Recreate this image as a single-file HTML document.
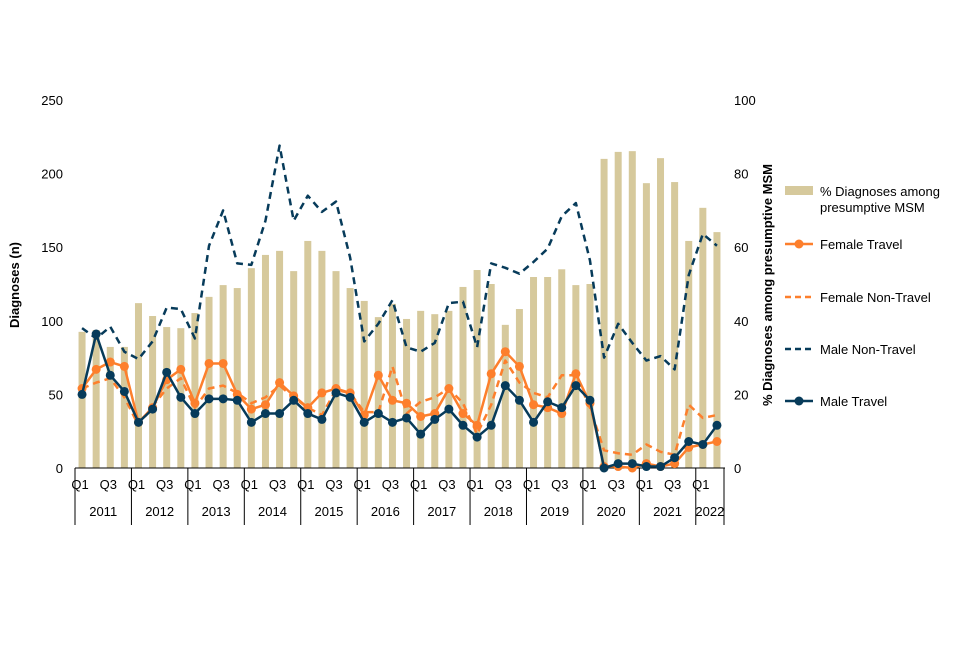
<!DOCTYPE html>
<html><head><meta charset="utf-8"><style>
body{margin:0;background:#fff;font-family:"Liberation Sans",Arial,sans-serif;}
svg text{font-family:"Liberation Sans",Arial,sans-serif;font-size:13px;fill:#000;}
</style></head><body>
<svg id="chart" width="960" height="640" xmlns="http://www.w3.org/2000/svg"></svg>
<script>
const years = ["2011","2012","2013","2014","2015","2016","2017","2018","2019","2020","2021","2022"];
const pctMSM = [37,37.5,32.9,32.9,44.8,41.3,38.3,38,42.1,46.5,49.7,48.9,54.3,57.9,59,53.5,61.7,59,53.5,48.9,45.4,41,44.6,40.5,42.7,41.8,42.7,49.2,53.8,50,38.9,43.2,51.9,51.9,54,49.7,50,84,85.9,86.1,77.4,84.2,77.7,61.7,70.7,64.1];
const maleNonTravel = [95,88,96,79,74,86,109,108,88,151,175,139,138,168,219,168,185,174,181,143,86,98,114,82,79,85,112,113,82,139,136,132,140,149,171,180,141,75,98,85,73,76,67,131,159,151];
const maleTravel = [50,91,63,52,31,40,65,48,37,47,47,46,31,37,37,46,37,33,51,48,31,37,31,34,23,33,40,29,21,29,56,46,31,45,41,56,46,0,3,3,1,1,7,18,16,29];
const femaleTravel = [54,67,72,69,31,41,60,67,44,71,71,50,40,43,58,49,41,51,54,51,36,63,46,44,35,37,54,37,29,64,79,69,43,41,37,64,44,1,1,0,3,1,3,14,16,18];
const femaleNonTravel = [54,58,61,48,29,42,54,61,41,54,56,51,44,48,56,48,41,36,53,51,38,38,69,37,45,48,54,44,23,43,73,58,51,48,63,63,41,12,10,9,16,11,9,43,34,36];
const leftTicks = [0,50,100,150,200,250];
const rightTicks = [0,20,40,60,80,100];

const svg = document.getElementById('chart');
const NS = "http://www.w3.org/2000/svg";
const X0 = 75, X1 = 724, Y0 = 468, Y1 = 100;
const N = pctMSM.length;
const step = (X1 - X0) / N;
const xs = i => X0 + step * (i + 0.5);
const yL = v => Y0 - (v / 250) * (Y0 - Y1);
const yR = v => Y0 - (v / 100) * (Y0 - Y1);
function mk(tag, attrs, parent){const e=document.createElementNS(NS,tag);for(const k in attrs)e.setAttribute(k,attrs[k]);(parent||svg).appendChild(e);return e;}

// bars
const gb = mk('g',{});


pctMSM.forEach((v,i)=>{
  const r = mk('rect',{x:xs(i)-3.5,y:yR(v),width:7,height:Y0-yR(v),fill:'#d6c99c'},gb);
  
  
});

// axis
const ax = mk('line',{x1:X0,y1:Y0,x2:X1+1,y2:Y0,stroke:'#000','stroke-width':1});


for(let y=0;y<=years.length;y++){
  const xx = X0 + step*4*y;
  const tl = mk('line',{x1:Math.min(xx,X1),y1:Y0,x2:Math.min(xx,X1),y2:525,stroke:'#000','stroke-width':1});
  
  
}
for(let i=0;i<N;i++){
  if(i%2===0){
    const t = mk('text',{x:xs(i)-2,y:489,'text-anchor':'middle'});
    t.textContent = (i%4===0)?'Q1':'Q3';
    
    
  }
}
years.forEach((yr,k)=>{
  const a = X0+step*4*k, b = Math.min(X0+step*4*(k+1), X1);
  const t = mk('text',{x:(a+b)/2,y:516,'text-anchor':'middle'});
  t.textContent = yr;
  
  
});
leftTicks.forEach(v=>{
  const t = mk('text',{x:63,y:yL(v)+5,'text-anchor':'end'});
  t.textContent = v;
  
  
});
rightTicks.forEach(v=>{
  const t = mk('text',{x:734,y:yR(v)+5,'text-anchor':'start'});
  t.textContent = v;
  
  
});
const yt = mk('text',{x:0,y:0,transform:'translate(19,285) rotate(-90)','text-anchor':'middle','font-weight':'bold'});
yt.textContent='Diagnoses (n)';


const yt2 = mk('text',{x:0,y:0,transform:'translate(772,285) rotate(-90)','text-anchor':'middle','font-weight':'bold'});
yt2.textContent='% Diagnoses among presumptive MSM';



function line(data,color,dash,markers,name){
  const g = mk('g',{});
  
  
  const pts = data.map((v,i)=>xs(i)+','+yL(v)).join(' ');
  const p = mk('polyline',{points:pts,fill:'none',stroke:color,'stroke-width':2.5,'stroke-dasharray':dash?'7,5':'none','stroke-linejoin':'round'},g);
  
  
  if(markers) data.forEach((v,i)=>{
    const c = mk('circle',{cx:xs(i),cy:yL(v),r:4.5,fill:color},g);
    
    
  });
}
line(femaleNonTravel,'#fd7f2c',true,false,'female-non-travel');
line(maleNonTravel,'#073b5a',true,false,'male-non-travel');
line(femaleTravel,'#fd7f2c',false,true,'female-travel');
line(maleTravel,'#073b5a',false,true,'male-travel');

// legend
const lg = mk('g',{});


const sw = mk('rect',{x:785,y:186,width:28,height:9,fill:'#d6c99c'},lg);


const l1 = mk('text',{x:820,y:196},lg); l1.textContent='% Diagnoses among';
 
const l1b = mk('text',{x:820,y:212},lg); l1b.textContent='presumptive MSM';
 
const items=[['Female Travel','#fd7f2c',false,true,244],['Female Non-Travel','#fd7f2c',true,false,297],['Male Non-Travel','#073b5a',true,false,349],['Male Travel','#073b5a',false,true,401]];
items.forEach(it=>{
  const y=it[4];
  const l = mk('line',{x1:785,y1:y,x2:813,y2:y,stroke:it[1],'stroke-width':2.5,'stroke-dasharray':it[2]?'6,4':'none'},lg);
  
  
  if(it[3]){const c=mk('circle',{cx:799,cy:y,r:4.5,fill:it[1]},lg);
    
    }
  const t = mk('text',{x:820,y:y+5},lg); t.textContent=it[0];
  
  
});
</script>
</body></html>
